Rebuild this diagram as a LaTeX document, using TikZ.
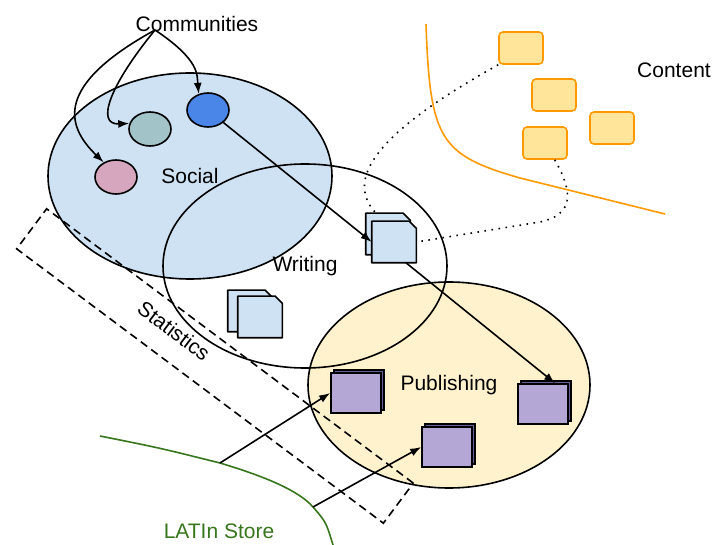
\documentclass[tikz,border=0pt]{standalone}
\usepackage{fontspec}
\setmainfont{Liberation Sans}
\usetikzlibrary{shapes,shadows,arrows.meta}
\definecolor{social_fill}{HTML}{CFE2F3}
\definecolor{publish_fill}{HTML}{FFF2CC}
\definecolor{comm_pink}{HTML}{D5A6BD}
\definecolor{comm_teal}{HTML}{A2C4C9}
\definecolor{comm_blue}{HTML}{4A86E8}
\definecolor{doc_fill}{HTML}{CFE2F3}
\definecolor{pub_front}{HTML}{B4A7D6}
\definecolor{pub_side}{HTML}{6A5C94}
\definecolor{content_line}{HTML}{FF9900}
\definecolor{content_fill}{HTML}{FFE599}
\definecolor{store_green}{HTML}{38761D}
\tikzstyle{area_social} = [ellipse, draw, fill=social_fill, inner sep=0pt, minimum width=284pt, minimum height=206pt]
\tikzstyle{area_writing} = [ellipse, draw, inner sep=0pt, minimum width=284pt, minimum height=204pt]
\tikzstyle{area_publishing} = [ellipse, draw, fill=publish_fill, inner sep=0pt, minimum width=282pt, minimum height=206pt]
\tikzstyle{area_stats} = [rectangle, draw, dash pattern=on 8pt off 5pt, minimum width=458pt, minimum height=50pt, rotate=-36.8]
\tikzstyle{node_community} = [ellipse, draw, inner sep=0pt, minimum width=42pt, minimum height=34pt]
\tikzstyle{node_content} = [rectangle, rounded corners=4pt, draw=content_line, fill=content_fill, minimum width=44pt, minimum height=32pt]
\tikzstyle{node_doc} = [rectangle, inner sep=0pt, minimum width=43pt, minimum height=40pt]
\tikzstyle{doc_face} = [draw, fill=doc_fill, line join=round]
\tikzstyle{node_pub} = [rectangle, draw, fill=pub_front, minimum width=50pt, minimum height=40pt, copy shadow={shadow xshift=3pt, shadow yshift=3pt, fill=pub_side, draw}]
\tikzstyle{edge_arrow} = [-{Latex[length=11pt,width=8pt]}]
\tikzstyle{edge_dotted} = [dash pattern=on 1.6pt off 5.5pt]
\tikzstyle{line_content} = [draw=content_line]
\tikzstyle{line_store} = [draw=store_green]

\begin{document}
\begin{tikzpicture}[x=1pt, y=-1pt, line width=1.6pt, font=\fontsize{21}{25}\selectfont]
			\useasboundingbox (0,0) rectangle (713,545);
			% areas
			\node (S) at (190,176) [area_social] {Social};
			\node (P) at (449,385) [area_publishing] {Publishing};
			\node (W) at (305,266) [area_writing] {Writing};
			\node (T) at (215,366) [area_stats] {};
			\node (Tl) at (174,331) [rotate=-37] {Statistics};
			\node (Cn) at (674,70) {Content};
			\node (L) at (219,531) [text=store_green] {LATIn Store};
			% borders
			\draw[line_content] (426,24) .. controls (430,140) and (440,155) .. (520,178) -- (665,214);
			\coordinate (La) at (220,463);
			\coordinate (Lb) at (313,507);
			\draw[line_store] (100,436) .. controls (160,448) .. (La) .. controls (270,478) and (300,492) .. (Lb) .. controls (326,522) .. (333,545);
			% communities
			\node (C) at (197,24) {Communities};
			\coordinate (Cs) at (155,30);
			\node (C1) at (116,177) [node_community, fill=comm_pink] {};
			\node (C2) at (150,129) [node_community, fill=comm_teal] {};
			\node (C3) at (208,110) [node_community, fill=comm_blue] {};
			% content
			\node (K1) at (521,48) [node_content] {};
			\node (K2) at (554,95) [node_content] {};
			\node (K3) at (612,128) [node_content] {};
			\node (K4) at (545,143) [node_content] {};
			% documents
			\node (Db0) at (250,311) [node_doc] {};
			\node (Db) at (260,317) [node_doc] {};
			\node (Da0) at (388,234) [node_doc] {};
			\node (Da) at (394,242) [node_doc] {};
			\foreach \d in {Db0,Db,Da0,Da}
				\draw[doc_face] (\d.south west) -- (\d.north west) -- ([xshift=-7pt]\d.north east) -- ([yshift=-7pt]\d.north east) -- (\d.south east) -- cycle;
			% published
			\node (P1) at (356,393) [node_pub] {};
			\node (P2) at (447,447) [node_pub] {};
			\node (P3) at (543,404) [node_pub] {};
			% edges
			\draw[edge_arrow] (Cs) .. controls (55,85) and (65,125) .. (C1.130);
			\draw[edge_arrow] (Cs) .. controls (110,85) and (95,125) .. (C2.165);
			\draw[edge_arrow] (Cs) .. controls (200,60) and (197,75) .. (C3.120);
			\draw[edge_arrow] (C3.south east) -- (Da.west);
			\draw[edge_arrow] (Da.-60) -- (P3.60);
			\draw[edge_arrow] (La) -- (P1.west);
			\draw[edge_arrow] (Lb) -- (P2.west);
			\draw[edge_dotted] (K1.south west) .. controls (390,125) and (340,175) .. (Da0.120);
			\draw[edge_dotted] (K4.300) .. controls (575,195) and (572,215) .. (540,222) -- (Da.east);
		\end{tikzpicture}
\end{document}
